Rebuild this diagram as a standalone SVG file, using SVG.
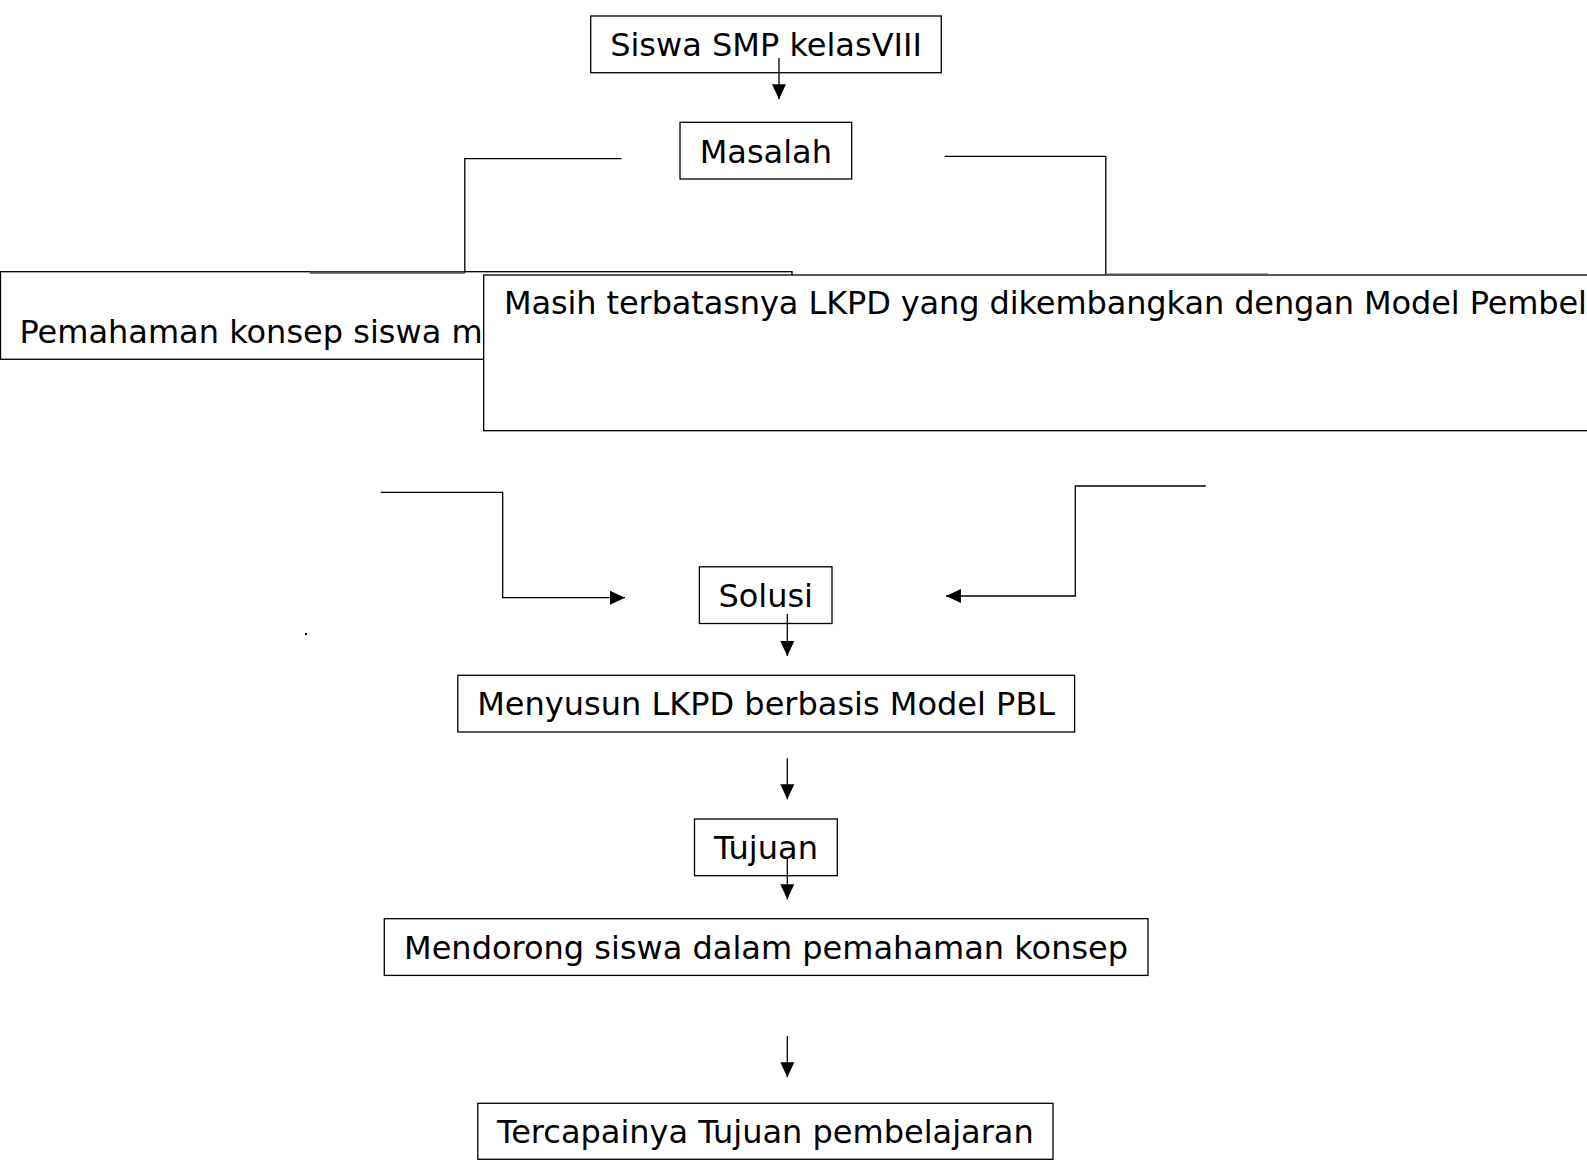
<svg xmlns="http://www.w3.org/2000/svg" width="1587" height="1160" viewBox="0 0 1587 1160">
<style>
.box{fill:#fff;stroke:#000;stroke-width:1.3}
.t{font-family:"DejaVu Sans",sans-serif;font-size:32px;fill:#000}
.c{text-anchor:middle}
.ln{fill:none;stroke:#000;stroke-width:1.3}
.gr{fill:none;stroke:#555;stroke-width:2.2}
</style>
<defs>
<marker id="ah" markerUnits="userSpaceOnUse" markerWidth="16" markerHeight="16" viewBox="0 0 16 16" refX="15" refY="8" orient="auto">
<path d="M0,1 L15,8 L0,15 Z" fill="#000"/>
</marker>
</defs>
<g id="n-pemahaman">
<rect class="box" x="0.5" y="271.7" width="791.5" height="87.6"/>
<text class="t" x="19.4" y="343">Pemahaman konsep siswa m</text>
</g>
<g id="n-masih">
<rect class="box" x="483.7" y="275" width="1120" height="155.7"/>
<text class="t" x="504" y="314" textLength="1083" lengthAdjust="spacing">Masih terbatasnya LKPD yang dikembangkan dengan Model Pembel</text>
</g>
<g id="n-siswa">
<rect class="box" x="590.7" y="16" width="350.6" height="56.7"/>
<text class="t c" x="766" y="56">Siswa SMP kelasVIII</text>
</g>
<g id="n-masalah">
<rect class="box" x="680" y="122.3" width="171.7" height="56.7"/>
<text class="t c" x="765.8" y="162.7">Masalah</text>
</g>
<g id="n-solusi">
<rect class="box" x="699.4" y="566.8" width="132.6" height="56.7"/>
<text class="t c" x="765.7" y="606.5">Solusi</text>
</g>
<g id="n-menyusun">
<rect class="box" x="457.8" y="675.3" width="616.8" height="56.7"/>
<text class="t c" x="766.2" y="715.3">Menyusun LKPD berbasis Model PBL</text>
</g>
<g id="n-tujuan">
<rect class="box" x="694.5" y="819" width="142.8" height="56.7"/>
<text class="t c" x="765.9" y="858.5">Tujuan</text>
</g>
<g id="n-mendorong">
<rect class="box" x="384.3" y="918.7" width="763.7" height="56.7"/>
<text class="t c" x="766.1" y="958.5">Mendorong siswa dalam pemahaman konsep</text>
</g>
<g id="n-tercapainya">
<rect class="box" x="477.8" y="1103.3" width="575.2" height="56"/>
<text class="t c" x="765.4" y="1142.5">Tercapainya Tujuan pembelajaran</text>
</g>
<g id="connectors">
<line class="ln" x1="779" y1="58" x2="779" y2="99.3" marker-end="url(#ah)"/>
<polyline class="ln" points="621.5,158.7 464.8,158.7 464.8,272.7"/>
<line class="gr" x1="309.7" y1="272.7" x2="464.8" y2="272.7"/>
<polyline class="ln" points="944.7,156.3 1105.8,156.3 1105.8,274.4"/>
<line class="gr" x1="1105.8" y1="274.6" x2="1268" y2="274.6"/>
<polyline class="ln" points="380.7,492.3 502.7,492.3 502.7,597.7 625,597.7" marker-end="url(#ah)"/>
<polyline class="ln" points="1205.7,486 1075.3,486 1075.3,596 946,596" marker-end="url(#ah)"/>
<line class="ln" x1="787.3" y1="614" x2="787.3" y2="656" marker-end="url(#ah)"/>
<line class="ln" x1="787.3" y1="758.3" x2="787.3" y2="799.3" marker-end="url(#ah)"/>
<line class="ln" x1="787.3" y1="858.3" x2="787.3" y2="899.3" marker-end="url(#ah)"/>
<line class="ln" x1="787.3" y1="1036" x2="787.3" y2="1077.3" marker-end="url(#ah)"/>
<circle cx="306" cy="634" r="1.2" fill="#000"/>
</g>
</svg>
